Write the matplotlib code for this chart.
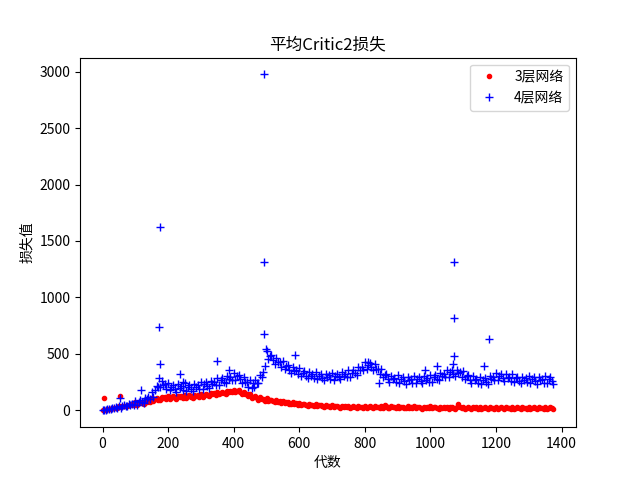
import matplotlib

matplotlib.use("Agg")
import matplotlib.pyplot as plt
import numpy as np

# 3-layer network: mean critic2 loss, sampled every 5 generations
red_gen = list(range(0, 1380, 5))
red_loss = [
    2, 0, 6, 10, 9, 11, 20, 19, 25, 23,
    35, 27, 36, 42, 38, 38, 52, 49, 54, 50,
    71, 47, 65, 74, 62, 58, 87, 78, 89, 78,
    107, 83, 101, 109, 96, 90, 117, 106, 115, 102,
    128, 102, 118, 125, 111, 104, 130, 118, 126, 112,
    138, 112, 128, 135, 121, 114, 140, 128, 136, 122,
    148, 122, 138, 146, 133, 127, 154, 143, 152, 139,
    166, 141, 158, 166, 153, 147, 174, 163, 172, 159,
    185, 159, 173, 177, 159, 146, 165, 146, 147, 126,
    145, 113, 123, 125, 106, 94, 116, 100, 104, 86,
    106, 82, 92, 95, 81, 73, 91, 78, 82, 68,
    86, 62, 72, 75, 61, 53, 71, 58, 62, 48,
    65, 46, 55, 58, 47, 40, 57, 47, 50, 39,
    55, 36, 45, 48, 37, 30, 48, 38, 41, 31,
    47, 29, 38, 42, 31, 25, 42, 33, 36, 26,
    43, 24, 34, 38, 27, 21, 39, 29, 33, 23,
    40, 22, 32, 36, 26, 20, 38, 29, 33, 23,
    40, 22, 50, 35, 25, 19, 37, 27, 31, 21,
    38, 20, 29, 33, 23, 17, 35, 25, 29, 19,
    36, 18, 28, 32, 21, 15, 33, 24, 28, 18,
    35, 17, 27, 31, 21, 14, 32, 23, 27, 17,
    34, 16, 26, 30, 20, 14, 32, 55, 27, 17,
    33, 15, 25, 29, 19, 13, 31, 22, 26, 16,
    33, 15, 25, 28, 18, 12, 30, 21, 25, 15,
    32, 14, 24, 28, 18, 12, 30, 21, 25, 15,
    32, 14, 23, 27, 17, 11, 29, 20, 24, 14,
    31, 13, 23, 27, 17, 11, 29, 20, 24, 14,
    31, 13, 23, 27, 17, 11,
]
red_extra_gen = [3, 52]
red_extra_loss = [110, 130]

# 4-layer network: mean critic2 loss, sampled every 5 generations
blue_gen = list(range(0, 1380, 5))
blue_loss = [
    3, 0, 7, 11, 10, 12, 21, 20, 26, 24,
    40, 25, 38, 45, 38, 35, 55, 49, 57, 50,
    80, 47, 73, 88, 73, 68, 110, 99, 116, 105,
    165, 120, 180, 220, 210, 205, 260, 223, 232, 193,
    245, 178, 210, 225, 188, 167, 230, 200, 215, 180,
    240, 175, 211, 227, 193, 174, 235, 207, 224, 191,
    253, 192, 230, 248, 217, 200, 263, 237, 255, 223,
    287, 226, 265, 285, 255, 240, 305, 280, 300, 270,
    335, 270, 303, 315, 275, 245, 295, 253, 255, 210,
    265, 202, 245, 270, 247, 240, 315, 300, 340, 395,
    525, 455, 485, 490, 445, 415, 465, 425, 430, 387,
    440, 368, 395, 402, 360, 333, 387, 351, 360, 320,
    375, 305, 335, 346, 307, 283, 340, 307, 320, 283,
    341, 274, 308, 322, 286, 265, 325, 295, 310, 275,
    335, 272, 309, 326, 293, 275, 337, 309, 326, 293,
    355, 295, 335, 356, 327, 315, 383, 361, 384, 357,
    425, 366, 405, 422, 385, 360, 410, 367, 370, 323,
    370, 292, 315, 320, 277, 251, 307, 275, 288, 251,
    310, 244, 279, 293, 258, 237, 297, 267, 282, 247,
    307, 242, 278, 293, 259, 240, 301, 272, 288, 255,
    317, 255, 293, 312, 281, 265, 330, 305, 325, 295,
    360, 300, 338, 355, 321, 301, 360, 327, 338, 297,
    351, 280, 307, 315, 273, 247, 301, 267, 278, 240,
    297, 232, 268, 285, 253, 237, 301, 275, 295, 265,
    329, 268, 305, 320, 283, 261, 318, 285, 298, 261,
    319, 252, 285, 298, 262, 241, 300, 270, 284, 249,
    309, 244, 278, 293, 257, 237, 297, 267, 282, 247,
    307, 242, 277, 292, 257, 237,
]
blue_extra_gen = [175, 172, 175, 173, 348, 493, 493, 493, 498, 587, 385, 235, 245, 462, 52, 116,
                  1073, 1073, 1073, 1021, 1163, 1178, 984, 843, 810, 1070]
blue_extra_loss = [1625, 735, 407, 290, 434, 2975, 1310, 680, 540, 490, 355, 318, 250, 205, 110, 180,
                   1315, 820, 478, 390, 390, 635, 354, 240, 430, 410]

plt.rcParams["font.family"] = ["Noto Sans CJK SC", "DejaVu Sans"]
plt.rcParams["axes.unicode_minus"] = False

fig, ax = plt.subplots(figsize=(6.4, 4.8), dpi=100)
ax.plot(np.r_[red_gen, red_extra_gen], np.r_[red_loss, red_extra_loss], "r.", label="3层网络")
ax.plot(np.r_[blue_gen, blue_extra_gen], np.r_[blue_loss, blue_extra_loss], "b+", label="4层网络")
ax.set_title("平均Critic2损失")
ax.set_xlabel("代数")
ax.set_ylabel("损失值")
ax.legend(loc="upper right")
fig.savefig("out.png", dpi=100)
